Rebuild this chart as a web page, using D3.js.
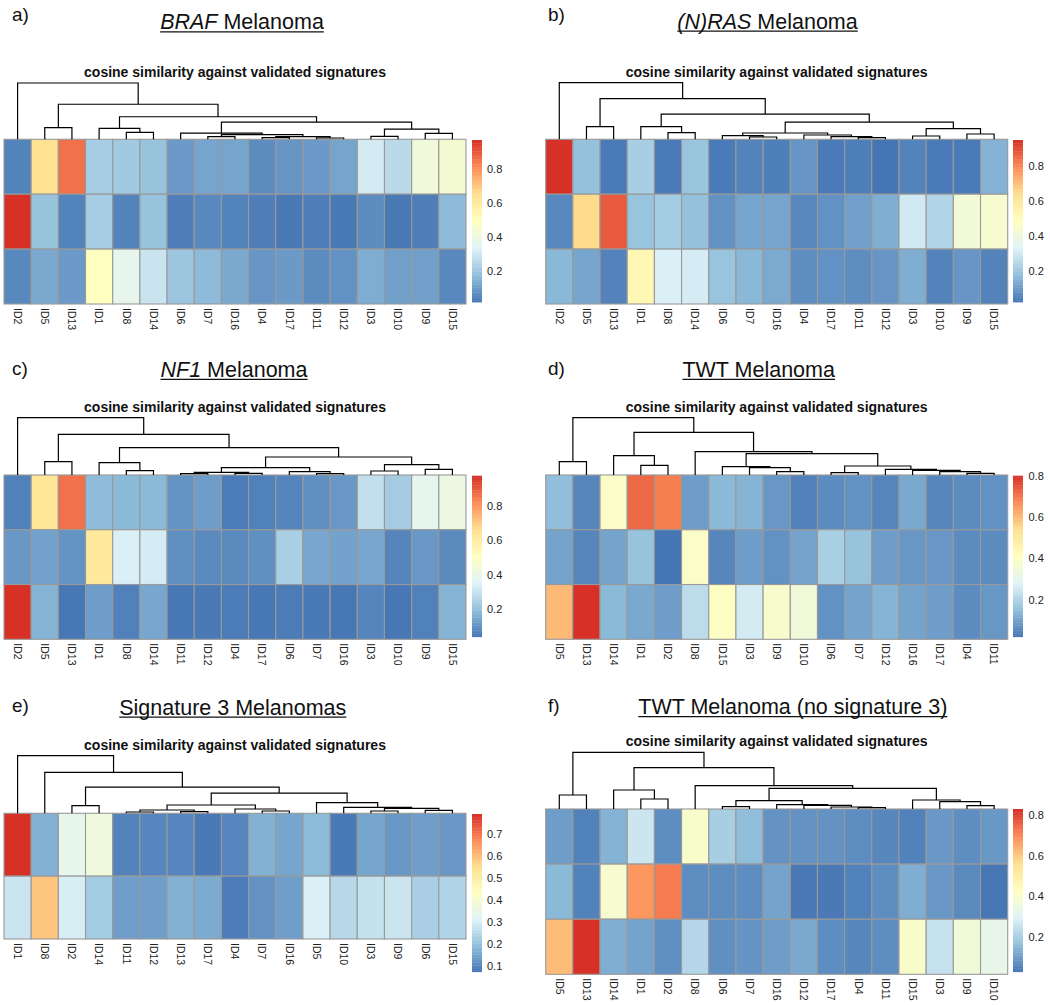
<!DOCTYPE html>
<html><head><meta charset="utf-8">
<script src="https://cdn.jsdelivr.net/npm/d3@7"></script>
<style>
body{margin:0;background:#fff}
svg{display:block}
text{font-family:"Liberation Sans",Arial,Helvetica,sans-serif}
</style>
</head><body>
<svg id="chart" width="1050" height="1005"></svg>
<script>
// ---------------- DATA ----------------
const subtitle = "cosine similarity against validated signatures";
const palette = ["#4575B4","#91BFDB","#E0F3F8","#FFFFBF","#FEE090","#FC8D59","#D73027"];

// panel letters and titles ([text, italic])
const letters = ["a)","b)","c)","d)","e)","f)"];
const titles = [
  [["BRAF",true],[" Melanoma",false]],
  [["(N)RAS",true],[" Melanoma",false]],
  [["NF1",true],[" Melanoma",false]],
  [["TWT Melanoma",false]],
  [["Signature 3 Melanomas",false]],
  [["TWT Melanoma (no signature 3)",false]]
];

// column orders (from clustering)
const orderA = ["ID2","ID5","ID13","ID1","ID8","ID14","ID6","ID7","ID16","ID4","ID17","ID11","ID12","ID3","ID10","ID9","ID15"];
const orderB = ["ID2","ID5","ID13","ID1","ID8","ID14","ID6","ID7","ID16","ID4","ID17","ID11","ID12","ID3","ID10","ID9","ID15"];
const orderC = ["ID2","ID5","ID13","ID1","ID8","ID14","ID11","ID12","ID4","ID17","ID6","ID7","ID16","ID3","ID10","ID9","ID15"];
const orderD = ["ID5","ID13","ID14","ID1","ID2","ID8","ID15","ID3","ID9","ID10","ID6","ID7","ID12","ID16","ID17","ID4","ID11"];
const orderE = ["ID1","ID8","ID2","ID14","ID11","ID12","ID13","ID17","ID4","ID7","ID16","ID5","ID10","ID3","ID9","ID6","ID15"];
const orderF = ["ID5","ID13","ID14","ID1","ID2","ID8","ID6","ID7","ID16","ID12","ID17","ID4","ID11","ID15","ID3","ID9","ID10"];

// cosine similarity values (rows = validated signatures)
const valuesA = [
  [0.05,0.65,0.86,0.22,0.21,0.19,0.10,0.12,0.12,0.07,0.09,0.10,0.12,0.31,0.26,0.42,0.44],
  [0.97,0.19,0.05,0.22,0.05,0.19,0.04,0.06,0.05,0.04,0.03,0.04,0.03,0.07,0.03,0.04,0.17],
  [0.06,0.13,0.10,0.49,0.37,0.29,0.20,0.17,0.13,0.09,0.10,0.07,0.08,0.14,0.11,0.11,0.06]
];
const valuesB = [
  [0.95,0.18,0.03,0.22,0.03,0.19,0.03,0.05,0.04,0.09,0.03,0.04,0.02,0.05,0.03,0.03,0.15],
  [0.06,0.65,0.88,0.19,0.21,0.18,0.08,0.12,0.12,0.06,0.08,0.11,0.14,0.30,0.24,0.42,0.44],
  [0.16,0.12,0.05,0.52,0.32,0.31,0.19,0.16,0.13,0.07,0.08,0.07,0.09,0.14,0.05,0.09,0.05]
];
const valuesC = [
  [0.06,0.64,0.87,0.19,0.18,0.18,0.10,0.12,0.05,0.06,0.07,0.09,0.11,0.29,0.23,0.38,0.41],
  [0.11,0.13,0.10,0.62,0.34,0.33,0.09,0.08,0.08,0.09,0.24,0.14,0.13,0.14,0.07,0.11,0.08],
  [0.98,0.17,0.04,0.12,0.06,0.14,0.04,0.045,0.05,0.04,0.05,0.045,0.04,0.07,0.04,0.06,0.17]
];
const valuesD = [
  [0.15,0.05,0.39,0.72,0.69,0.09,0.14,0.13,0.08,0.04,0.06,0.07,0.05,0.11,0.05,0.06,0.07],
  [0.10,0.05,0.10,0.16,0.02,0.39,0.05,0.09,0.07,0.10,0.19,0.16,0.09,0.08,0.08,0.06,0.06],
  [0.60,0.80,0.14,0.11,0.09,0.22,0.40,0.26,0.38,0.35,0.07,0.10,0.13,0.10,0.09,0.06,0.08]
];
const valuesE = [
  [0.79,0.17,0.34,0.37,0.095,0.10,0.10,0.08,0.10,0.17,0.15,0.185,0.08,0.15,0.13,0.14,0.13],
  [0.28,0.59,0.30,0.22,0.14,0.14,0.17,0.16,0.085,0.12,0.14,0.305,0.25,0.27,0.28,0.23,0.24]
];
const valuesF = [
  [0.10,0.05,0.14,0.26,0.07,0.40,0.20,0.16,0.08,0.08,0.08,0.07,0.06,0.05,0.09,0.07,0.09],
  [0.15,0.05,0.39,0.68,0.72,0.07,0.07,0.07,0.11,0.035,0.035,0.05,0.07,0.13,0.09,0.065,0.03],
  [0.62,0.83,0.13,0.11,0.075,0.22,0.075,0.085,0.10,0.12,0.07,0.06,0.07,0.40,0.25,0.37,0.33]
];

// colour-scale ranges and legend ticks
const rangeA = [0.02, 0.97],  ticksA = [0.2,0.4,0.6,0.8];
const rangeB = [0.02, 0.95],  ticksB = [0.2,0.4,0.6,0.8];
const rangeC = [0.035, 0.98], ticksC = [0.2,0.4,0.6,0.8];
const rangeD = [0.02, 0.80],  ticksD = [0.2,0.4,0.6,0.8];
const rangeE = [0.073, 0.79], ticksE = [0.1,0.2,0.3,0.4,0.5,0.6,0.7];
const rangeF = [0.027, 0.83], ticksF = [0.2,0.4,0.6,0.8];

// column dendrograms: [left, right, mergeHeight], leaves = column index
const treeA = [0,[[1,2,11.7],[[3,[4,5,7],11],[[6,[[7,8,2.7],[[9,10,1.7],[11,12,1.3],2.7],4.7],6.3],[[13,14,3],[15,16,6],10.3],17.3],22.7],35.3],56.7];
const treeB = [0,[[1,2,12.7],[[3,[4,5,6.7],12.7],[[[6,[7,8,2.3],3.7],[9,[10,[11,12,1.7],2.7],4.3],6.3],[[13,14,3.3],[15,16,5.3],10.7],17.3],25.3],40.7],56.7];
const treeC = [0,[[1,2,13.3],[[3,[4,5,4.3],12.3],[[[[6,7,1.3],[8,9,1.7],2.7],[10,[11,12,1.3],3.3],7.3],[[13,14,4],[15,16,5.7],10.3],18],27.3],40.7],57.3];
const treeD = [[0,1,13.3],[[2,[3,4,9.7],19.3],[5,[[6,[7,[8,9,3.3],7.3],8.3],[[10,11,2.3],[12,[13,[14,[15,16,1.7],3.3],4.7],5.7],9],21.3],23.3],42.7],57.3];
const treeE = [0,[1,[[2,3,7.7],[[[[4,5,1.3],[6,7,1.7],3.3],[8,[9,10,2.3],4.3],8.3],[11,[12,[[13,14,2.3],[15,16,3],5],6],10.7],20.3],26.3],41],57.7];
const treeF = [[0,1,14],[[2,[3,4,10],19],[5,[[[6,7,2.3],[8,[9,[10,[11,12,1.3],2],3.7],4.3],8.3],[13,[14,[15,16,3.3],7.3],9],20.7],23.3],41.3],56.7];

// ---------------- LAYOUT (positions only) ----------------
const L = {x0:4, x1:466, legX:472, tickX:487, letX:12};
const R = {x0:545.7, x1:1007.7, legX:1013, tickX:1028.5, letX:548};
const layouts = [
  Object.assign({}, L, {heatTop:139.3, heatBottom:304,   rootY:83,    subY:77,    titleX:242,   titleY:29.3,  letY:20.7, legTop:140,   legBottom:302,   clipBottom:330}),
  Object.assign({}, R, {heatTop:139.3, heatBottom:304,   rootY:82.7,  subY:77,    titleX:767.5, titleY:28.5,  letY:20.7, legTop:140,   legBottom:302,   clipBottom:330}),
  Object.assign({}, L, {heatTop:475,   heatBottom:639.3, rootY:417.7, subY:411.7, titleX:234,   titleY:376.7, letY:375,  legTop:475.7, legBottom:636.7, clipBottom:665}),
  Object.assign({}, R, {heatTop:475,   heatBottom:639.3, rootY:417.7, subY:411.7, titleX:758.7, titleY:376.7, letY:375,  legTop:475.7, legBottom:636.7, clipBottom:665}),
  Object.assign({}, L, {heatTop:813.3, heatBottom:939,   rootY:755.7, subY:750,   titleX:232.8, titleY:714.5, letY:711.5,legTop:814,   legBottom:971.7, clipBottom:1005}),
  Object.assign({}, R, {heatTop:809,   heatBottom:974.3, rootY:752.3, subY:746,   titleX:792.8, titleY:714,   letY:711.5,legTop:809,   legBottom:971.7, clipBottom:1005})
];

const panels = [
  {order:orderA, values:valuesA, range:rangeA, ticks:ticksA, tree:treeA},
  {order:orderB, values:valuesB, range:rangeB, ticks:ticksB, tree:treeB},
  {order:orderC, values:valuesC, range:rangeC, ticks:ticksC, tree:treeC},
  {order:orderD, values:valuesD, range:rangeD, ticks:ticksD, tree:treeD},
  {order:orderE, values:valuesE, range:rangeE, ticks:ticksE, tree:treeE},
  {order:orderF, values:valuesF, range:rangeF, ticks:ticksF, tree:treeF}
];

const svg = d3.select("#chart");

panels.forEach((p, pi) => {
  const lay = layouts[pi];
  const g = svg.append("g");

  const x = d3.scaleBand().domain(p.order).range([lay.x0, lay.x1]);
  const y = d3.scaleBand().domain(d3.range(p.values.length)).range([lay.heatTop, lay.heatBottom]);
  const stops = d3.range(palette.length).map(i => p.range[0] + i*(p.range[1]-p.range[0])/(palette.length-1));
  const color = d3.scaleLinear().domain(stops).range(palette).clamp(true);

  // panel letter
  g.append("text").attr("x", lay.letX).attr("y", lay.letY)
    .attr("font-size", 19).attr("fill", "#111").text(letters[pi]);

  // title with underline
  const t = g.append("text").attr("x", lay.titleX).attr("y", lay.titleY)
    .attr("text-anchor", "middle").attr("font-size", 21.5).attr("fill", "#111");
  titles[pi].forEach(seg => {
    t.append("tspan").attr("font-style", seg[1] ? "italic" : "normal").text(seg[0]);
  });
  const bb = t.node().getBBox();
  g.append("line").attr("x1", bb.x).attr("x2", bb.x + bb.width)
    .attr("y1", lay.titleY + 2.6).attr("y2", lay.titleY + 2.6)
    .attr("stroke", "#111").attr("stroke-width", 1.2);

  // subtitle
  g.append("text").attr("x", (lay.x0 + lay.x1)/2).attr("y", lay.subY)
    .attr("text-anchor", "middle").attr("font-size", 14).attr("font-weight", "bold")
    .attr("fill", "#111").text(subtitle);

  // heatmap cells
  const cells = [];
  p.values.forEach((row, ri) => row.forEach((v, ci) => cells.push({ri, col:p.order[ci], v})));
  g.append("g").selectAll("rect").data(cells).join("rect")
    .attr("x", d => x(d.col)).attr("y", d => y(d.ri))
    .attr("width", x.bandwidth()).attr("height", y.bandwidth())
    .attr("fill", d => color(d.v))
    .attr("stroke", "#999999").attr("stroke-width", 1.1);

  // dendrogram
  const dy = d3.scaleLinear().domain([0, p.tree[2]]).range([lay.heatTop, lay.rootY]);
  let path = "";
  function walk(n) {
    if (typeof n === "number") return {x: x(p.order[n]) + x.bandwidth()/2, h: 0};
    const a = walk(n[0]), b = walk(n[1]);
    path += `M${a.x},${dy(a.h)}V${dy(n[2])}H${b.x}V${dy(b.h)}`;
    return {x: (a.x + b.x)/2, h: n[2]};
  }
  walk(p.tree);
  g.append("path").attr("d", path).attr("fill", "none")
    .attr("stroke", "#000").attr("stroke-width", 1.2);

  // column labels (clipped like the composite figure)
  const clipId = "clip" + pi;
  svg.append("clipPath").attr("id", clipId).append("rect")
    .attr("x", lay.x0 - 10).attr("y", lay.heatBottom).attr("width", lay.x1 - lay.x0 + 20)
    .attr("height", lay.clipBottom - lay.heatBottom);
  g.append("g").attr("clip-path", `url(#${clipId})`)
    .selectAll("text").data(p.order).join("text")
    .attr("transform", d => `translate(${x(d) + x.bandwidth()/2},${lay.heatBottom + 4}) rotate(90)`)
    .attr("dy", "0.35em").attr("font-size", 10.5).attr("fill", "#222")
    .text(d => d);

  // colour legend
  const ly = d3.scaleLinear().domain(p.range).range([lay.legBottom, lay.legTop]);
  const n = 100, step = (p.range[1] - p.range[0]) / n;
  g.append("g").selectAll("rect").data(d3.range(n)).join("rect")
    .attr("x", lay.legX).attr("width", 10)
    .attr("y", i => ly(p.range[0] + (i+1)*step))
    .attr("height", i => ly(p.range[0] + i*step) - ly(p.range[0] + (i+1)*step) + 0.4)
    .attr("fill", i => color(p.range[0] + (i+0.5)*step));
  g.append("g").selectAll("text").data(p.ticks).join("text")
    .attr("x", lay.tickX).attr("y", d => ly(d))
    .attr("dominant-baseline", "central").attr("font-size", 11).attr("fill", "#222")
    .text(d => d3.format(".1f")(d));
});
</script>
</body></html>
